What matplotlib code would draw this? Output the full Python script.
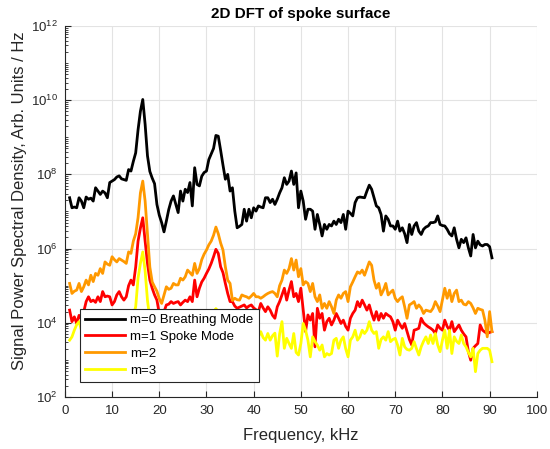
import numpy as np
import matplotlib
matplotlib.use('Agg')
import matplotlib.pyplot as plt
from matplotlib.ticker import LogLocator, FuncFormatter, MultipleLocator, NullFormatter

plt.rcParams['font.family'] = ['Liberation Sans', 'DejaVu Sans']
plt.rcParams['mathtext.fontset'] = 'custom'
plt.rcParams['mathtext.rm'] = 'Liberation Sans'

# frequency axis, kHz (0.5 kHz bins)
freq = np.arange(180) * 0.5 + 1.0

# log10 of PSD, one list per mode
m0_log = [
    7.37, 7.10, 7.12, 7.10, 7.37, 7.28, 7.10, 7.39, 7.33, 7.36,
    7.28, 7.64, 7.55, 7.46, 7.55, 7.50, 7.37, 7.78, 7.82, 7.86,
    7.93, 7.96, 7.88, 7.86, 7.84, 8.13, 8.09, 8.35, 8.58, 9.20,
    9.70, 10.02, 9.35, 8.50, 8.08, 7.90, 7.75, 7.19, 6.90, 6.70,
    6.45, 6.74, 7.05, 7.28, 7.42, 7.20, 6.97, 7.55, 7.28, 7.60,
    7.51, 7.78, 7.15, 8.18, 7.73, 7.69, 7.95, 8.05, 8.09, 8.40,
    8.55, 8.70, 9.05, 9.03, 8.65, 8.25, 7.87, 8.00, 7.55, 7.64,
    7.01, 6.56, 6.60, 6.65, 7.06, 6.74, 7.06, 6.83, 7.10, 7.01,
    7.15, 7.12, 7.10, 7.37, 7.37, 7.24, 7.33, 7.19, 7.33, 7.50,
    7.64, 7.91, 7.73, 7.82, 8.09, 7.73, 8.04, 7.10, 7.55, 7.28,
    6.79, 7.06, 7.06, 7.01, 6.52, 6.92, 6.65, 6.34, 6.65, 6.52,
    6.65, 6.61, 6.74, 6.65, 6.79, 6.70, 6.92, 6.52, 7.01, 6.95,
    6.88, 7.24, 7.37, 7.39, 7.38, 7.37, 7.55, 7.71, 7.60, 7.37,
    7.15, 7.10, 6.92, 6.47, 6.88, 6.79, 6.61, 6.61, 6.52, 6.74,
    6.47, 6.56, 6.40, 6.16, 6.65, 6.38, 6.61, 6.70, 6.47, 6.38,
    6.52, 6.58, 6.61, 6.70, 6.70, 6.72, 6.88, 6.65, 6.62, 6.61,
    6.52, 6.40, 6.34, 6.56, 6.25, 6.02, 6.25, 6.16, 6.29, 6.02,
    5.80, 6.38, 6.02, 6.20, 6.10, 6.07, 6.11, 6.11, 6.05, 5.75,
]
m1_log = [
    4.34, 4.03, 4.16, 3.98, 4.20, 4.10, 4.30, 4.57, 4.70, 4.57,
    4.61, 4.55, 4.70, 4.57, 4.84, 4.70, 4.72, 4.70, 4.48, 4.57,
    4.75, 4.84, 4.70, 4.61, 4.70, 5.00, 5.15, 5.02, 5.50, 6.20,
    6.55, 6.83, 6.20, 5.60, 5.15, 4.93, 4.75, 4.61, 4.25, 4.10,
    4.30, 4.48, 4.50, 4.57, 4.52, 4.55, 4.57, 4.48, 4.55, 4.61,
    4.57, 4.70, 4.57, 5.15, 4.70, 4.93, 5.10, 5.20, 5.33, 5.45,
    5.60, 5.78, 5.98, 5.87, 5.51, 5.35, 5.06, 4.79, 4.57, 4.57,
    4.45, 4.39, 4.42, 4.45, 4.48, 4.40, 4.45, 4.48, 4.40, 4.35,
    4.30, 4.52, 4.40, 4.30, 4.43, 4.34, 4.20, 4.12, 4.43, 4.57,
    4.75, 4.93, 4.61, 4.88, 5.11, 4.70, 4.79, 4.57, 4.93, 4.34,
    3.76, 4.21, 4.07, 4.25, 3.35, 4.39, 4.12, 4.25, 3.80, 4.03,
    4.12, 3.94, 4.07, 4.25, 4.12, 3.98, 4.07, 3.90, 3.80, 4.12,
    4.25, 4.34, 4.57, 4.43, 4.61, 4.48, 4.34, 4.48, 4.25, 4.07,
    4.30, 4.07, 4.25, 4.12, 4.25, 4.20, 4.16, 4.03, 3.80, 4.07,
    3.95, 3.85, 3.98, 3.76, 3.55, 3.40, 3.80, 3.82, 3.85, 4.12,
    4.00, 3.94, 3.89, 3.85, 3.80, 3.71, 3.94, 3.85, 3.80, 4.07,
    3.90, 3.80, 4.03, 3.76, 3.85, 3.94, 3.80, 3.70, 3.62, 3.22,
    2.99, 3.31, 3.38, 3.44, 3.94, 3.80, 3.75, 3.71, 3.74, 3.76,
]
m2_log = [
    5.06, 4.79, 4.85, 4.88, 5.06, 4.84, 4.97, 5.15, 5.02, 5.28,
    5.11, 5.33, 5.28, 5.46, 5.33, 5.64, 5.58, 5.55, 5.78, 5.70,
    5.64, 5.73, 5.69, 5.65, 5.60, 5.91, 5.87, 6.20, 6.40, 6.83,
    7.50, 7.82, 7.28, 6.40, 5.50, 5.10, 4.97, 4.85, 4.65, 4.52,
    4.75, 4.97, 4.90, 4.93, 5.06, 5.02, 5.02, 5.20, 5.15, 5.24,
    5.42, 5.35, 5.28, 5.60, 5.33, 5.46, 5.70, 5.85, 5.96, 6.10,
    6.20, 6.36, 6.58, 6.40, 6.15, 5.96, 5.51, 5.15, 5.06, 4.60,
    4.66, 4.62, 4.61, 4.75, 4.72, 4.70, 4.66, 4.72, 4.79, 4.70,
    4.70, 4.66, 4.70, 4.75, 4.79, 4.82, 4.84, 4.79, 4.70, 5.00,
    5.15, 5.42, 5.33, 5.46, 5.73, 5.42, 5.69, 5.24, 5.46, 5.02,
    5.11, 5.06, 4.84, 5.06, 4.70, 4.57, 4.75, 4.39, 4.52, 4.39,
    4.57, 4.43, 4.25, 4.61, 4.75, 4.66, 4.79, 4.84, 4.57, 4.97,
    5.10, 5.24, 5.37, 5.33, 5.42, 5.28, 5.46, 5.64, 5.55, 5.15,
    4.93, 5.06, 4.75, 4.88, 5.06, 4.75, 4.82, 4.88, 4.66, 4.57,
    4.65, 4.70, 4.43, 4.12, 4.48, 4.52, 4.57, 4.39, 4.48, 4.40,
    4.25, 4.34, 4.32, 4.30, 4.39, 4.57, 4.45, 4.30, 4.61, 4.93,
    4.66, 4.88, 4.57, 4.79, 4.88, 4.57, 4.61, 4.50, 4.48, 4.57,
    4.52, 4.40, 4.25, 4.39, 4.36, 4.34, 4.07, 3.62, 4.30, 3.76,
]
m3_log = [
    3.53, 3.62, 3.80, 3.95, 4.03, 3.80, 3.60, 3.45, 3.55, 3.40,
    3.60, 3.35, 3.70, 3.50, 3.45, 3.75, 3.55, 3.40, 3.65, 3.50,
    3.70, 3.55, 3.80, 3.60, 3.75, 3.90, 4.00, 4.20, 4.43, 5.20,
    5.60, 5.91, 5.40, 4.60, 4.10, 3.90, 3.70, 3.55, 3.40, 3.30,
    3.50, 3.65, 3.45, 3.70, 3.55, 3.60, 3.40, 3.75, 3.50, 3.65,
    3.80, 3.55, 3.70, 3.90, 3.60, 3.75, 3.85, 3.95, 4.05, 4.10,
    4.20, 4.30, 4.38, 4.30, 4.15, 4.00, 3.85, 3.70, 3.60, 3.50,
    3.65, 3.45, 3.55, 3.70, 3.50, 3.40, 3.60, 3.75, 3.55, 3.45,
    3.62, 3.76, 3.60, 3.53, 3.71, 3.53, 3.65, 3.72, 3.10, 3.70,
    4.03, 3.31, 3.58, 3.44, 3.31, 3.71, 3.20, 3.13, 3.44, 3.98,
    3.80, 3.53, 3.08, 3.62, 3.49, 3.40, 3.26, 3.40, 3.08, 3.17,
    3.13, 3.17, 3.53, 3.58, 3.31, 3.53, 3.62, 3.30, 3.08, 3.53,
    3.62, 3.80, 3.53, 3.62, 3.80, 3.71, 3.80, 4.03, 3.80, 3.71,
    3.76, 3.31, 3.55, 3.62, 3.53, 3.76, 3.49, 3.55, 3.58, 3.40,
    3.13, 3.58, 3.35, 3.28, 3.26, 3.31, 3.49, 3.30, 3.13, 3.35,
    3.50, 3.62, 3.44, 3.67, 3.44, 3.71, 3.40, 3.22, 3.53, 3.80,
    3.31, 3.80, 3.17, 3.62, 3.50, 3.44, 3.67, 3.44, 3.35, 3.20,
    3.08, 3.31, 2.68, 3.17, 3.26, 3.31, 3.31, 3.31, 3.26, 2.95,
]

labels = ['m=0 Breathing Mode', 'm=1 Spoke Mode', 'm=2', 'm=3']
colors = ['black', '#FF0000', '#FF9900', '#FFFF00']
series = [m0_log, m1_log, m2_log, m3_log]
yticks = [1e2, 1e4, 1e6, 1e8, 1e10, 1e12]

fig = plt.figure(figsize=(5.5, 4.49), dpi=100)
ax = fig.add_axes([0.118, 0.116, 0.858, 0.826])

for vals, c, lab in zip(series, colors, labels):
    ax.plot(freq, 10 ** np.array(vals), color=c, lw=2.0, label=lab)

ax.set_yscale('log')
ax.set_xlim(0, 100)
ax.set_ylim(1e2, 1e12)
ax.xaxis.set_major_locator(MultipleLocator(10))
ax.set_yticks(yticks)
ax.yaxis.set_minor_locator(LogLocator(base=10, subs=np.arange(1, 10), numticks=30))
ax.yaxis.set_minor_formatter(NullFormatter())
ax.yaxis.set_major_formatter(FuncFormatter(lambda v, p: r'$10^{%d}$' % round(np.log10(v))))

ax.grid(True, which='major', color='#E3E3E3', lw=0.8)
ax.set_axisbelow(True)
for s in ['top', 'right']:
    ax.spines[s].set_visible(False)
for s in ['left', 'bottom']:
    ax.spines[s].set_color('#262626')
ax.tick_params(which='both', direction='in', colors='#262626', labelsize=9.5)
ax.tick_params(which='major', length=4)
ax.tick_params(which='minor', length=2)
ax.tick_params(axis='x', pad=6)
ax.tick_params(axis='y', pad=5)

ax.set_xlabel('Frequency, kHz', fontsize=12, color='#262626', labelpad=8)
ax.set_ylabel('Signal Power Spectral Density, Arb. Units / Hz', fontsize=12,
              color='#262626', labelpad=3, y=0.53)
ax.set_title('2D DFT of spoke surface', fontsize=11, fontweight='bold', pad=6)

leg = ax.legend(loc='lower left', bbox_to_anchor=(0.032, 0.040), borderaxespad=0,
                fontsize=9.5, fancybox=False, framealpha=1, edgecolor='#262626',
                handlelength=3.0, handletextpad=0.4, labelspacing=0.35, borderpad=0.4)
leg.get_frame().set_linewidth(0.8)

fig.savefig('out.png', dpi=100)
